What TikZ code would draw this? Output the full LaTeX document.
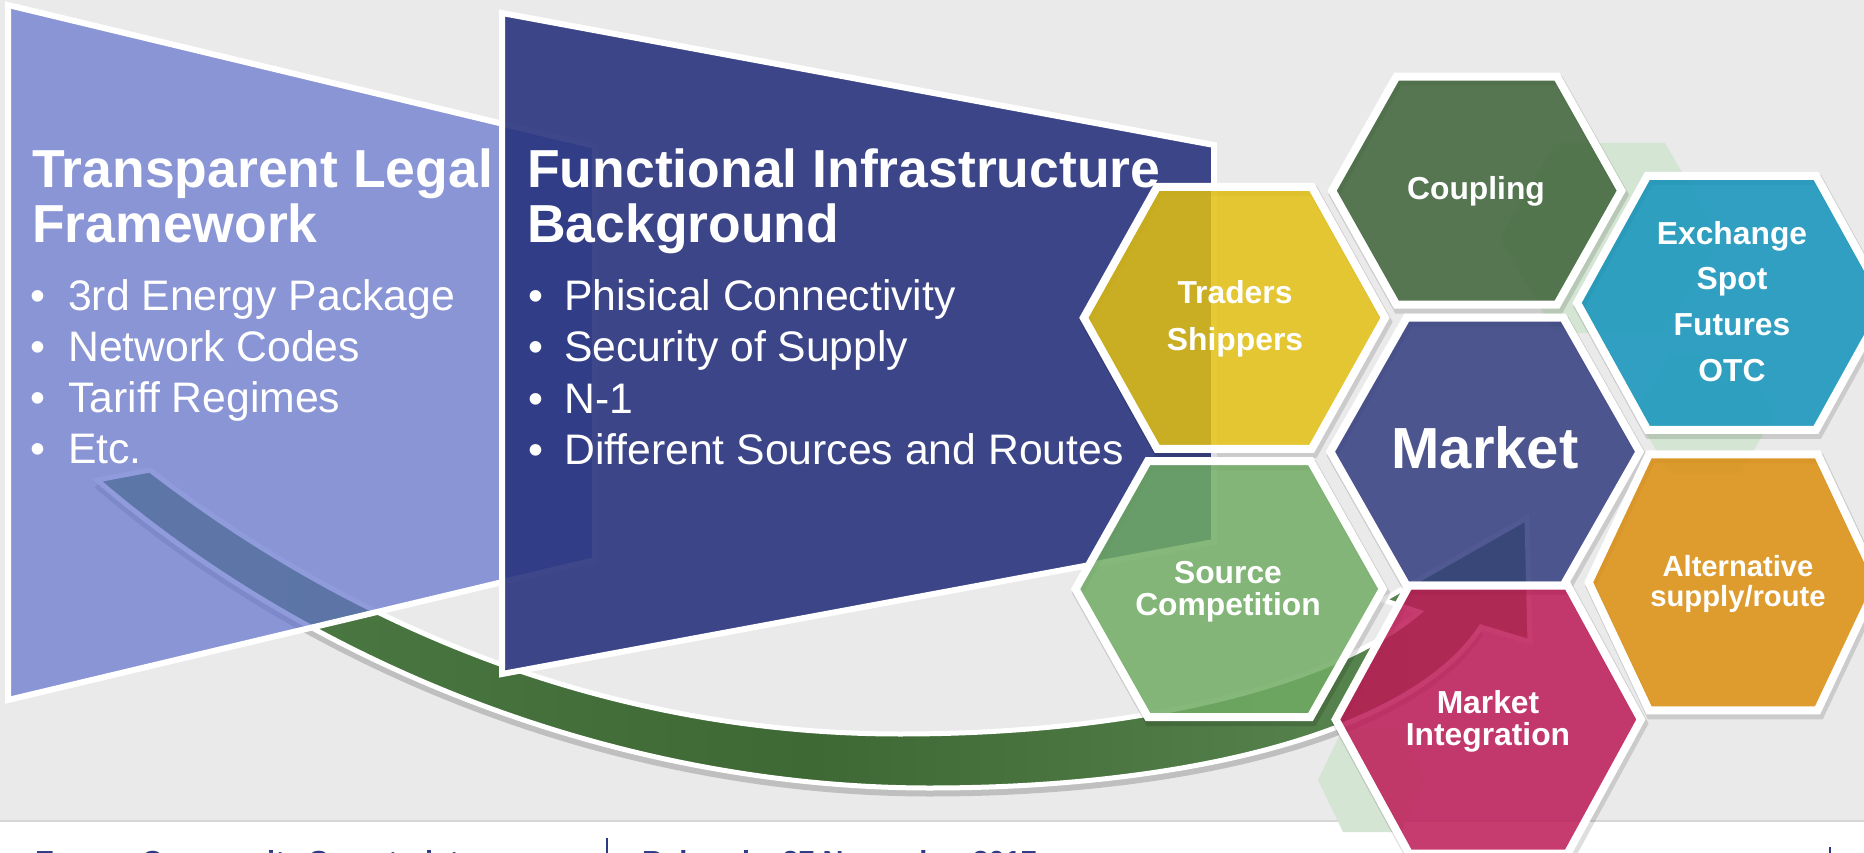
\documentclass[tikz,border=0pt]{standalone}
\usepackage{fontspec}
\setmainfont{Liberation Sans}
\usetikzlibrary{calc}
\definecolor{bg}{HTML}{EAEAEA}
\definecolor{sepline}{HTML}{D6D6D6}
\definecolor{lt}{HTML}{6475CE}
\definecolor{dt}{HTML}{28347E}
\definecolor{bandL}{HTML}{4F7D47}
\definecolor{bandM}{HTML}{3E6834}
\definecolor{bandR}{HTML}{5E8B55}
\definecolor{pale}{HTML}{D4E6D3}
\definecolor{cyel}{HTML}{E2C011}
\definecolor{ccoup}{HTML}{3C6237}
\definecolor{cmark}{HTML}{323C7F}
\definecolor{cexch}{HTML}{1193BB}
\definecolor{calt}{HTML}{DC8F0F}
\definecolor{csrc}{HTML}{70AC63}
\definecolor{cmi}{HTML}{BD1A56}
\definecolor{navy}{HTML}{2E3B84}
\newcommand\hexat[5]{(#1,#2) +(-#3,0) -- +(-#4,-#5) -- +(#4,-#5) -- +(#3,0) -- +(#4,#5) -- +(-#4,#5) -- cycle}
\tikzset{
  ttl/.style={anchor=base west, inner sep=0pt, text=white, font=\fontsize{53.5}{64}\selectfont\bfseries},
  itm/.style={anchor=base west, inner sep=0pt, text=white, font=\fontsize{42.7}{51}\selectfont},
  hxt/.style={anchor=base, inner sep=0pt, text=white, font=\fontsize{31.8}{38}\selectfont\bfseries},
  hxs/.style={draw=black, draw opacity=0.13, line width=10pt, shift={(2,4)}},
  hxb/.style={draw=white, line width=8pt, line join=miter, fill opacity=0.85},
  trap/.style={draw=white, line width=6pt, line join=miter},
  foot/.style={anchor=base west, inner sep=0pt, text=navy, font=\fontsize{29}{35}\selectfont\bfseries},
}
\begin{document}
\begin{tikzpicture}[x=1pt,y=-1pt]
\useasboundingbox (0,0) rectangle (1864,853);
\clip (0,0) rectangle (1864,853);
% background
\fill[bg] (0,0) rectangle (1864,821);
\fill[white] (0,821) rectangle (1864,853);
\draw[sepline, line width=2pt] (0,821) -- (1864,821);
% pale decorative hexagons
\fill[pale] \hexat{1372}{780}{54}{29}{52};
\fill[pale] \hexat{1610}{238}{110}{55}{95};
\fill[pale] \hexat{1705}{414}{70}{35}{60};
% curved arrow: shadow and band
\draw[black, draw opacity=0.18, line width=7pt, shift={(0,5)}]
  (1481,627) .. controls (1410,735) and (1180,788) .. (930,788)
  .. controls (640,788) and (330,680) .. (97,480);
\path[draw=white, line width=5pt, line join=miter, left color=bandL, right color=bandR, middle color=bandM]
  (150,470) .. controls (390,655) and (650,734) .. (900,734)
  .. controls (1150,734) and (1340,680) .. (1419,612)
  -- (1383,600) -- (1527,518) -- (1530,642) -- (1481,627)
  .. controls (1410,735) and (1180,788) .. (930,788)
  .. controls (640,788) and (330,680) .. (97,480)
  -- cycle;
% trapezoids
\path[trap, fill=lt, fill opacity=0.72] (8,5) -- (595,146) -- (595,560) -- (8,700) -- cycle;
\path[trap, fill=dt, fill opacity=0.9] (502,13) -- (1214,145) -- (1214,542) -- (502,674) -- cycle;
% left trapezoid text
\node[ttl] (t1a) at (32,188) {Transparent Legal};
\node[ttl] (t1b) at (32,243) {Framework};
\node[itm] (l1d) at (30.5,310) {•};
\node[itm] (l1) at (68,310) {3rd Energy Package};
\node[itm] (l2d) at (30.5,361) {•};
\node[itm] (l2) at (68,361) {Network Codes};
\node[itm] (l3d) at (30.5,412.5) {•};
\node[itm] (l3) at (68,412.5) {Tariff Regimes};
\node[itm] (l4d) at (30.5,463.7) {•};
\node[itm] (l4) at (68,463.7) {Etc.};
% right trapezoid text
\node[ttl] (t2a) at (527,187.5) {Functional Infrastructure};
\node[ttl] (t2b) at (527,243) {Background};
\node[itm] (r1d) at (528,310) {•};
\node[itm] (r1) at (564,310) {Phisical Connectivity};
\node[itm] (r2d) at (528,361.5) {•};
\node[itm] (r2) at (564,361.5) {Security of Supply};
\node[itm] (r3d) at (528,413) {•};
\node[itm] (r3) at (564,413) {N-1};
\node[itm] (r4d) at (528,464) {•};
\node[itm] (r4) at (564,464) {Different Sources and Routes};
% hexagons: shadows
\draw[hxs] \hexat{1234.4}{317.8}{150.6}{77.3}{131};
\draw[hxs] \hexat{1476.7}{190.7}{144.6}{80.3}{114};
\draw[hxs] \hexat{1485}{451.7}{154.6}{78.3}{134};
\draw[hxs] \hexat{1731.7}{302.8}{154.6}{84.3}{127};
\draw[hxs] \hexat{1733.3}{582.3}{144.6}{84.3}{128};
\draw[hxs] \hexat{1229.2}{589}{153.6}{81.3}{128};
\draw[hxs] \hexat{1488.3}{719.5}{152.6}{79.3}{134};
% hexagons
\path[hxb, fill=cyel] \hexat{1234.4}{317.8}{150.6}{77.3}{131};
\path[hxb, fill=ccoup] \hexat{1476.7}{190.7}{144.6}{80.3}{114};
\path[hxb, fill=cmark] \hexat{1485}{451.7}{154.6}{78.3}{134};
\path[hxb, fill=cexch] \hexat{1731.7}{302.8}{154.6}{84.3}{127};
\path[hxb, fill=calt] \hexat{1733.3}{582.3}{144.6}{84.3}{128};
\path[hxb, fill=csrc] \hexat{1229.2}{589}{153.6}{81.3}{128};
\path[hxb, fill=cmi] \hexat{1488.3}{719.5}{152.6}{79.3}{134};
% hexagon texts
\node[hxt] (trd) at (1235,303) {Traders};
\node[hxt] (shp) at (1235,350) {Shippers};
\node[hxt] (cpl) at (1476,200) {Coupling};
\node[hxt] (exc) at (1732,244) {Exchange};
\node[hxt] (spt) at (1732,289) {Spot};
\node[hxt] (fut) at (1732,335) {Futures};
\node[hxt] (otc) at (1732,381) {OTC};
\node[hxt, font=\fontsize{58}{69}\selectfont\bfseries] (mkt) at (1485,468) {Market};
\node[hxt, font=\fontsize{29.2}{35}\selectfont\bfseries] (alt1) at (1738,576) {Alternative};
\node[hxt, font=\fontsize{29.2}{35}\selectfont\bfseries] (alt2) at (1738,606) {supply/route};
\node[hxt] (src1) at (1228,583) {Source};
\node[hxt] (src2) at (1228,615) {Competition};
\node[hxt] (mi1) at (1488,713) {Market};
\node[hxt] (mi2) at (1488,745) {Integration};
% footer
\node[foot] (ft1) at (35,871) {Energy Community Secretariat};
\node[foot] (ft2) at (642,871) {Belgrade, 27 November 2017};
\draw[navy, line width=2pt] (607,838) -- (607,853);
\draw[navy, line width=2pt] (1830,847) -- (1830,853);
\end{tikzpicture}
\end{document}
